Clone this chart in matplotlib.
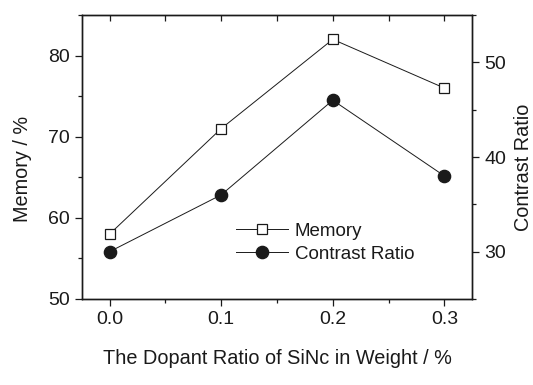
import numpy as np
import matplotlib
matplotlib.use('Agg')
import matplotlib.pyplot as plt
from matplotlib.ticker import MultipleLocator

plt.rcParams['font.family'] = ['Liberation Sans', 'DejaVu Sans']

# data
ratio = [0.0, 0.1, 0.2, 0.3]
memory = [58, 71, 82, 76]
contrast = [30, 36, 46, 38]

ink = '#1a1a1a'
fs_tick = 14
fs_lab = 14.3
fs_leg = 13.5

fig = plt.figure(figsize=(5.33, 3.85), dpi=100)
ax = fig.add_axes([0.1533, 0.2234, 0.886 - 0.1533, 0.961 - 0.2234])
ax2 = ax.twinx()

l1, = ax.plot(ratio, memory, color=ink, lw=0.7, marker='s', ms=7.5,
              mfc='white', mec=ink, mew=0.9, label='Memory')
l2, = ax2.plot(ratio, contrast, color=ink, lw=0.7, marker='o', ms=8.8,
               mfc=ink, mec=ink, label='Contrast Ratio')

ax.set_xlim(-0.025, 0.325)
ax.set_ylim(50, 85)
ax2.set_ylim(25, 55)

ax.xaxis.set_major_locator(MultipleLocator(0.1))
ax.xaxis.set_minor_locator(MultipleLocator(0.05))
ax.yaxis.set_major_locator(MultipleLocator(10))
ax.yaxis.set_minor_locator(MultipleLocator(5))
ax2.yaxis.set_major_locator(MultipleLocator(10))
ax2.yaxis.set_minor_locator(MultipleLocator(5))
ax.set_xticklabels([f'{v:.1f}' for v in ax.get_xticks()])

ax.tick_params(axis='x', which='both', direction='out', top=True, colors=ink,
               labelsize=fs_tick, width=0.9)
ax.tick_params(axis='x', which='major', length=5)
ax.tick_params(axis='x', which='minor', length=3)
ax.tick_params(axis='y', which='both', direction='out', colors=ink,
               labelsize=fs_tick, width=0.9)
ax.tick_params(axis='y', which='major', length=5)
ax.tick_params(axis='y', which='minor', length=3)
ax2.tick_params(axis='y', which='both', direction='out', colors=ink,
                labelsize=fs_tick, width=0.9)
ax2.tick_params(axis='y', which='major', length=5)
ax2.tick_params(axis='y', which='minor', length=3)

# top ticks point inward
for t in ax.xaxis.get_major_ticks() + ax.xaxis.get_minor_ticks():
    t.tick2line.set_marker(3)
    t.tick2line.set_markersize(4)

for a in (ax, ax2):
    for s in a.spines.values():
        s.set_color(ink)
        s.set_linewidth(1.0)

ax.set_xlabel('The Dopant Ratio of SiNc in Weight / %', fontsize=fs_lab,
              color=ink, labelpad=15)
ax.set_ylabel('Memory / %', fontsize=fs_lab, color=ink)
ax2.set_ylabel('Contrast Ratio', fontsize=fs_lab, color=ink)
ax.yaxis.set_label_coords(-0.127, 0.458)
ax2.yaxis.set_label_coords(1.106, 0.463)

ax.legend([l1, l2], ['Memory', 'Contrast Ratio'], loc='center left',
          bbox_to_anchor=(0.395, 0.198), frameon=False, fontsize=fs_leg,
          borderpad=0, borderaxespad=0, handlelength=2.8,
          handletextpad=0.33, labelspacing=0.3, labelcolor=ink)

fig.savefig('out.png', dpi=100)
